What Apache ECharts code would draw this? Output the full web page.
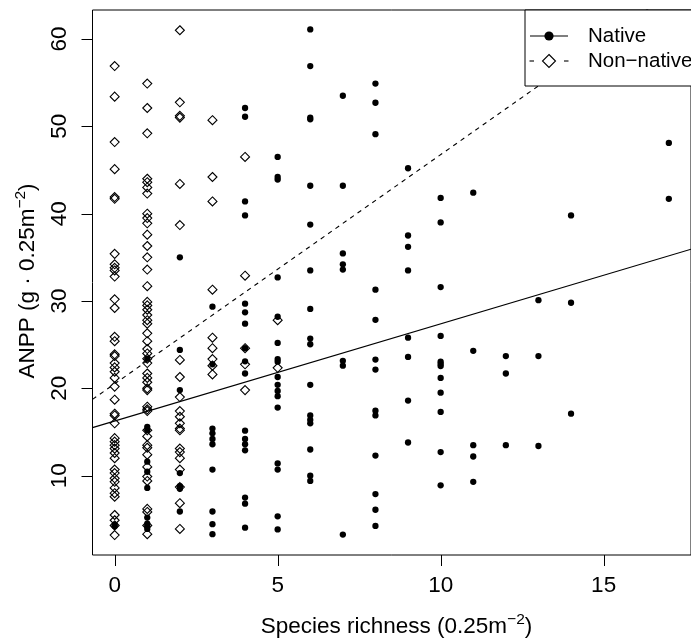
<!DOCTYPE html>
<html>
<head>
<meta charset="utf-8">
<script src="https://cdn.jsdelivr.net/npm/echarts@6/dist/echarts.min.js"></script>
<style>
  html, body { margin: 0; padding: 0; background: #fff; }
  #chart { width: 691px; height: 644px; }
</style>
</head>
<body>
<div id="chart"></div>
<script>
// Species richness levels (plants per 0.25 m2 quadrat)
const richnessLevels = [0, 1, 2, 3, 4, 5, 6, 7, 8, 9, 10, 11, 12, 13, 14, 15, 16, 17];

// ANPP of native plots, one list per richness level
const nativeAnpp = [
  [4.4, 4.2],
  [23.4, 15.6, 15.2, 11.6, 10.45, 8.6, 5.2, 4.5, 4.2, 3.9],
  [35.0, 24.4, 19.8, 10.3, 8.8, 8.5, 5.9],
  [29.35, 22.75, 15.4, 14.85, 14.2, 13.6, 10.7, 5.9, 4.45, 3.3],
  [52.1, 51.1, 41.4, 39.8, 29.7, 28.7, 27.4, 24.6, 23.1, 21.7, 15.15, 14.2, 13.6, 12.9, 7.5, 6.8, 4.05],
  [46.5, 44.2, 43.9, 32.7, 28.2, 25.2, 23.35, 23.05, 21.3, 20.4, 19.7, 19.1, 17.8, 11.4, 10.7, 5.35, 3.85],
  [61.1, 56.9, 51.0, 50.8, 43.2, 38.75, 33.5, 29.1, 25.7, 25.05, 20.4, 16.9, 16.4, 16.0, 13.0, 10.0, 9.4],
  [53.5, 43.2, 35.45, 34.2, 33.6, 23.15, 22.6, 3.26],
  [54.9, 52.7, 49.1, 31.3, 27.85, 23.3, 22.15, 17.45, 16.9, 12.3, 7.9, 6.1, 4.25],
  [45.2, 37.5, 36.2, 33.5, 25.8, 23.6, 18.6, 13.8],
  [41.8, 39.0, 31.6, 26.0, 23.05, 22.8, 22.55, 21.2, 19.5, 17.3, 12.7, 8.9],
  [42.4, 24.3, 13.5, 12.2, 9.3],
  [23.7, 21.7, 13.5],
  [30.1, 23.7, 13.4],
  [39.8, 29.8, 17.1],
  [],
  [],
  [48.1, 41.7]
];

// ANPP of non-native plots, one list per richness level
const nonNativeAnpp = [
  [56.9, 53.4, 48.2, 45.1, 41.9, 41.7, 35.4, 34.2, 33.8, 33.5, 32.8, 30.2, 29.2, 25.9, 25.4, 23.9, 23.7, 22.9,
   22.4, 21.9, 21.2, 20.2, 18.7, 17.1, 16.9, 16.0, 14.3, 13.9, 13.5, 13.1, 12.6, 12.0, 10.7, 10.3, 9.7, 9.3,
   8.6, 8.0, 7.6, 5.5, 4.9, 4.3, 3.2],
  [54.9, 52.1, 49.2, 44.0, 43.6, 43.0, 42.3, 40.0, 39.5, 38.9, 37.6, 36.3, 35.0, 33.6, 31.7, 29.9, 29.5, 29.0,
   28.4, 27.8, 27.4, 26.3, 25.4, 24.5, 24.0, 23.4, 22.9, 21.7, 21.2, 20.7, 20.0, 19.8, 17.9, 17.6, 17.4, 15.2,
   14.5, 13.5, 13.2, 12.4, 11.0, 9.9, 9.4, 6.2, 5.85, 4.3, 3.3],
  [61.0, 52.75, 51.2, 51.0, 43.4, 38.7, 23.25, 21.3, 19.0, 17.4, 16.75, 16.0, 15.4, 15.2, 13.1, 12.7, 12.0,
   10.7, 8.7, 6.85, 3.9],
  [50.7, 44.2, 41.4, 31.3, 25.8, 24.6, 23.35, 22.6, 21.6],
  [46.5, 32.9, 24.6, 22.75, 19.8],
  [27.8, 22.35]
];

// Least-squares fits: [intercept, slope]
const nativeFit = [16.26, 1.113];
const nonNativeFit = [20.52, 2.624];

// Axis ticks and ranges
const xTicks = [0, 5, 10, 15];
const yTicks = [10, 20, 30, 40, 50, 60];
const xRange = [-0.68, 17.68];
const yRange = [0.92, 63.32];

function toPoints(groups) {
  const pts = [];
  groups.forEach((vals, i) => vals.forEach(v => pts.push([richnessLevels[i], v])));
  return pts;
}
function fitLine(fit) {
  return xRange.map(x => [x, fit[0] + fit[1] * x]);
}

const FONT = 'Liberation Sans, Arial, Helvetica, sans-serif';
const TICK_LEN = 11;
const chart = echarts.init(document.getElementById('chart'));

const axisCommon = {
  type: 'value',
  splitLine: { show: false },
  axisLine: { show: false, onZero: false },
  axisTick: { show: false },
  axisLabel: { color: '#000', fontSize: 22.5, fontFamily: FONT }
};

// legend box and axis titles
const baseGraphic = [
  { type: 'rect', z: 100, shape: { x: 525, y: 10, width: 200, height: 76 },
    style: { fill: '#fff', stroke: '#000', lineWidth: 1 } },
  { type: 'line', z: 101, shape: { x1: 530, y1: 36, x2: 568, y2: 36 },
    style: { stroke: '#000', lineWidth: 1.1 } },
  { type: 'circle', z: 101, shape: { cx: 549, cy: 36, r: 4.6 }, style: { fill: '#000' } },
  { type: 'line', z: 101, shape: { x1: 529.5, y1: 61, x2: 534, y2: 61 },
    style: { stroke: '#000', lineWidth: 1.1 } },
  { type: 'line', z: 101, shape: { x1: 564, y1: 61, x2: 568.5, y2: 61 },
    style: { stroke: '#000', lineWidth: 1.1 } },
  { type: 'polygon', z: 101, shape: { points: [[549, 54.5], [555.5, 61], [549, 67.5], [542.5, 61]] },
    style: { fill: 'none', stroke: '#000', lineWidth: 1.1 } },
  { type: 'text', z: 101, x: 588, y: 36,
    style: { text: 'Native', fill: '#000', font: '20.5px ' + FONT, textAlign: 'left', textVerticalAlign: 'middle' } },
  { type: 'text', z: 101, x: 588, y: 61,
    style: { text: 'Non\u2212native', fill: '#000', font: '20.5px ' + FONT, textAlign: 'left', textVerticalAlign: 'middle' } },
  { type: 'text', z: 101, x: 396.5, y: 627,
    style: {
      text: 'Species richness (0.25m{sup|\u22122})', fill: '#000', fontSize: 22.5, fontFamily: FONT,
      align: 'center', verticalAlign: 'middle',
      rich: { sup: { fontSize: 15.5, fontFamily: FONT, fill: '#000', padding: [0, 0, 14, 0] } }
    } },
  { type: 'text', z: 101, x: 28, y: 281, rotation: Math.PI / 2,
    style: {
      text: 'ANPP (g \u00b7 0.25m{sup|\u22122})', fill: '#000', fontSize: 22.5, fontFamily: FONT,
      align: 'center', verticalAlign: 'middle',
      rich: { sup: { fontSize: 15.5, fontFamily: FONT, fill: '#000', padding: [0, 0, 14, 0] } }
    } }
];

const GRID = { left: 92.5, top: 10, width: 608.5, height: 545 };

chart.setOption({
  animation: false,
  backgroundColor: '#fff',
  grid: Object.assign({ show: true, borderColor: '#000', borderWidth: 1, backgroundColor: 'transparent' }, GRID),
  xAxis: Object.assign({}, axisCommon, {
    position: 'bottom',
    min: xRange[0], max: xRange[1],
    axisLabel: Object.assign({}, axisCommon.axisLabel, { customValues: xTicks, margin: 19 })
  }),
  yAxis: Object.assign({}, axisCommon, {
    position: 'left',
    min: yRange[0], max: yRange[1],
    axisLabel: Object.assign({}, axisCommon.axisLabel, { customValues: yTicks, rotate: 90, margin: 21 })
  }),
  series: [
    {
      name: 'Native', type: 'scatter', data: toPoints(nativeAnpp),
      symbol: 'circle', symbolSize: 6.3,
      itemStyle: { color: '#000', opacity: 1 }
    },
    {
      name: 'Non-native', type: 'scatter', data: toPoints(nonNativeAnpp),
      symbol: 'diamond', symbolSize: 9,
      itemStyle: { color: 'rgba(0,0,0,0)', borderColor: '#000', borderWidth: 1.1, opacity: 1 }
    },
    {
      name: 'Native fit', type: 'line', data: fitLine(nativeFit),
      symbol: 'none', clip: true,
      lineStyle: { color: '#000', width: 1.1, type: 'solid' }
    },
    {
      name: 'Non-native fit', type: 'line', data: fitLine(nonNativeFit),
      symbol: 'none', clip: true,
      lineStyle: { color: '#000', width: 1.1, type: [4.5, 4.5] }
    }
  ],
  graphic: baseGraphic
});

// Pixel position of a tick value along one axis
function axisPixel(finder, value, lo, hi, start, length, flip) {
  let p = NaN;
  try { p = chart.convertToPixel(finder, value); } catch (e) { p = NaN; }
  if (typeof p !== 'number' || !isFinite(p)) {
    const t = (value - lo) / (hi - lo);
    p = flip ? start + length * (1 - t) : start + length * t;
  }
  return p;
}

// Outward tick marks below and left of the plot box
const tickGraphic = [];
const bottom = GRID.top + GRID.height;
xTicks.forEach(v => {
  const x = Math.round(axisPixel({ xAxisIndex: 0 }, v, xRange[0], xRange[1], GRID.left, GRID.width, false)) + 0.5;
  tickGraphic.push({ type: 'line', z: 200, shape: { x1: x, y1: bottom, x2: x, y2: bottom + TICK_LEN },
    style: { stroke: '#000', lineWidth: 1 } });
});
yTicks.forEach(v => {
  const y = Math.round(axisPixel({ yAxisIndex: 0 }, v, yRange[0], yRange[1], GRID.top, GRID.height, true)) + 0.5;
  tickGraphic.push({ type: 'line', z: 200, shape: { x1: GRID.left - TICK_LEN, y1: y, x2: GRID.left, y2: y },
    style: { stroke: '#000', lineWidth: 1 } });
});
chart.setOption({ graphic: baseGraphic.concat(tickGraphic) });
</script>
</body>
</html>
